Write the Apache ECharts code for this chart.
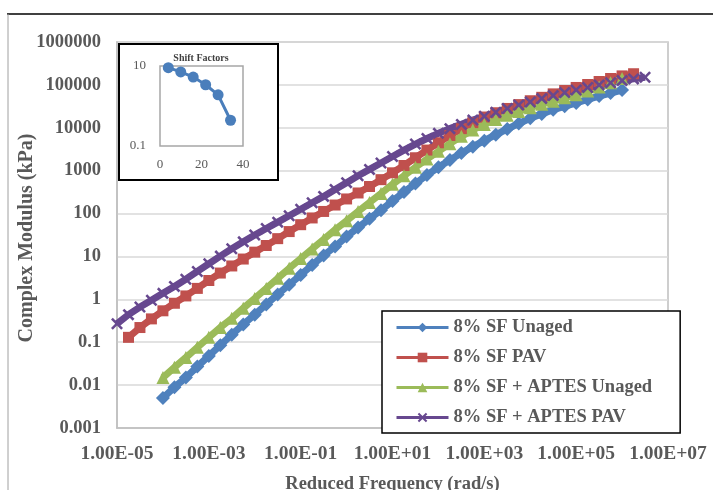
<!DOCTYPE html>
<html><head><meta charset="utf-8">
<script src="https://cdn.jsdelivr.net/npm/echarts@6/dist/echarts.min.js"></script>
<style>html,body{margin:0;padding:0;background:#fff}#c{width:713px;height:490px}</style>
</head><body><div id="c"></div><script>
// Reduced frequency grid (rad/s), quarter-decade readings
const freq = [1e-5,1.78e-5,3.16e-5,5.62e-5, 1e-4,1.78e-4,3.16e-4,5.62e-4, 1e-3,1.78e-3,3.16e-3,5.62e-3,
  0.01,0.0178,0.0316,0.0562, 0.1,0.178,0.316,0.562, 1,1.78,3.16,5.62, 10,17.8,31.6,56.2,
  100,178,316,562, 1000,1780,3160,5620, 1e4,1.78e4,3.16e4,5.62e4, 1e5,1.78e5,3.16e5,5.62e5,
  1e6,1.78e6,3.16e6];
const seriesNames = ['8% SF Unaged','8% SF PAV','8% SF + APTES Unaged','8% SF + APTES PAV'];
// Complex modulus (kPa)
const sfUnaged = [null,null,null,null,
  0.005,0.0089,0.015,0.027,0.048,0.085,0.15,0.26,0.44,0.76,1.3,2.2,3.7,6.3,10.5,17,29,47,76,120,195,316,500,790,
  1200,1780,2570,3630,5010,6920,9330,12600,16600,20900,26300,31600,38000,45700,55000,64600,75900,
  null,null];
const sfPav = [null,
  0.13,0.22,0.35,0.54,0.81,1.2,1.8,2.75,4.1,6.0,8.7,12.6,18,26,38,55,79,112,158,219,302,427,617,891,
  1320,2000,3020,4470,6610,9550,13200,17800,22400,28200,34700,42700,51300,61700,74100,87100,102000,120000,141000,162000,182000,
  null];
const aptesUnaged = [null,null,null,null,
  0.015,0.026,0.044,0.076,0.13,0.22,0.36,0.62,1.05,1.8,3.1,5.3,8.9,15,25,42,68,112,182,295,480,760,
  1200,1860,2820,4270,6310,8910,12000,15500,19500,24000,29500,35500,41700,50100,58900,72400,89100,112000,141000,
  null,null];
const aptesPav = [0.27,0.44,0.66,0.95,1.38,2.0,2.95,4.47,6.76,10.2,15.1,21.9,31.6,44.7,63.1,89.1,126,178,251,363,525,759,
  1070,1510,2140,3020,4170,5620,7410,9550,12000,15100,18600,22900,28200,33900,39800,47900,56200,66100,75900,87100,
  100000,112000,126000,138000,151000];
// Inset: shift factors
const shiftTemps = [4,10,16,22,28,34];
const shiftFactors = [9.1,7.1,5.3,3.4,1.9,0.44];
// Tick labels and titles
const xTickLabels = {'-5':'1.00E-05','-3':'1.00E-03','-1':'1.00E-01','1':'1.00E+01','3':'1.00E+03','5':'1.00E+05','7':'1.00E+07'};
const yTickLabels = {'-3':'0.001','-2':'0.01','-1':'0.1','0':'1','1':'10','2':'100','3':'1000','4':'10000','5':'100000','6':'1000000'};
const insetYLabels = {'-1':'0.1','1':'10'};
const yTitle = 'Complex Modulus (kPa)';
const xTitle = 'Reduced Frequency (rad/s)';
const insetTitle = 'Shift Factors';

const FONT = '"Liberation Serif","Times New Roman",serif';
const colors = ['#4F81BD','#C0504D','#9BBB59','#67488F'];
const symbols = ['diamond','rect','triangle','path://M0,1.5L1.5,0L5,3.5L8.5,0L10,1.5L6.5,5L10,8.5L8.5,10L5,6.5L1.5,10L0,8.5L3.5,5Z'];
const sizes = [14,11,13,12];
const allVals = [sfUnaged,sfPav,aptesUnaged,aptesPav];
function pairs(vals){const out=[];vals.forEach((v,i)=>{if(v!=null)out.push([freq[i],v]);});return out;}
function ex(v){return String(Math.round(Math.log10(v)));}

const chart = echarts.init(document.getElementById('c'));
const mainSeries = allVals.map((vals,i)=>({
  name: seriesNames[i], type:'line', xAxisIndex:0, yAxisIndex:0,
  data: pairs(vals), symbol: symbols[i], symbolSize: sizes[i],
  itemStyle:{color:colors[i]}, lineStyle:{color:colors[i], width:7}, z:2
}));
chart.setOption({
  animation:false,
  backgroundColor:'#fff',
  graphic:[
    {type:'line', shape:{x1:7,y1:14,x2:713,y2:14}, style:{stroke:'#000',lineWidth:1.5}},
    {type:'line', shape:{x1:8,y1:14,x2:8,y2:490}, style:{stroke:'#a0a0a0',lineWidth:1}},
    {type:'rect', shape:{x:119,y:44,width:159,height:136}, style:{fill:'#fff',stroke:'#000',lineWidth:2}, z:3},
    {type:'text', x:201, y:58, z:7, style:{text:insetTitle, font:'bold 10px '+FONT, fill:'#404040', align:'center', verticalAlign:'middle', textAlign:'center', textVerticalAlign:'middle'}},
    {type:'text', x:27, y:238, rotation:Math.PI/2, z:7, style:{text:yTitle, font:'bold 20px '+FONT, fill:'#595959', align:'center', verticalAlign:'middle', textAlign:'center', textVerticalAlign:'middle'}}
  ],
  legend:{
    data: seriesNames, orient:'vertical', left:382, top:311,
    padding:[7,28,6,13], itemGap:11, itemWidth:52, itemHeight:12,
    lineStyle:{width:3},
    borderColor:'#000', borderWidth:1.5, backgroundColor:'#fff',
    textStyle:{fontFamily:FONT, fontWeight:'bold', fontSize:18.5, color:'#595959', lineHeight:18}
  },
  grid:[
    {left:117, top:42, width:551, height:386, show:true, borderColor:'#bfbfbf', borderWidth:1.5,
     backgroundColor:'transparent', outerBoundsMode:'none', containLabel:false},
    {left:160, top:66, width:83, height:80, show:true, borderColor:'#a6a6a6', borderWidth:1.5, z:4,
     outerBoundsMode:'none', containLabel:false}
  ],
  xAxis:[
    {type:'log', logBase:10, gridIndex:0, min:1e-5, max:1e7, interval:1,
     name:xTitle, nameLocation:'middle', nameGap:47,
     nameTextStyle:{fontFamily:FONT, fontWeight:'bold', fontSize:18.5, color:'#595959'},
     axisLine:{show:true, lineStyle:{color:'#bfbfbf', width:1.5}}, axisTick:{show:false}, splitLine:{show:false},
     axisLabel:{interval:0, margin:16, fontFamily:FONT, fontWeight:'bold', fontSize:19.5, color:'#595959',
       formatter:v=>xTickLabels[ex(v)]||''}},
    {type:'value', gridIndex:1, min:0, max:40, interval:20, z:5,
     axisLine:{show:false}, axisTick:{show:false}, splitLine:{show:false},
     axisLabel:{margin:12, fontFamily:FONT, fontSize:13, color:'#595959'}}
  ],
  yAxis:[
    {type:'log', logBase:10, gridIndex:0, min:0.001, max:1e6, interval:1,
     axisLine:{show:true, lineStyle:{color:'#bfbfbf', width:1.5}}, axisTick:{show:false},
     splitLine:{show:true, lineStyle:{color:'#d9d9d9', width:1.5}},
     axisLabel:{interval:0, margin:16, fontFamily:FONT, fontWeight:'bold', fontSize:18.5, color:'#595959',
       formatter:v=>yTickLabels[ex(v)]||''}},
    {type:'log', logBase:10, gridIndex:1, min:0.1, max:10, interval:1, z:5,
     axisLine:{show:false}, axisTick:{show:false}, splitLine:{show:false},
     axisLabel:{interval:0, margin:14, fontFamily:FONT, fontSize:13, color:'#595959',
       formatter:v=>insetYLabels[ex(v)]||''}}
  ],
  series: mainSeries.concat([{
    name:insetTitle, type:'line', xAxisIndex:1, yAxisIndex:1, z:6,
    data: shiftTemps.map((t,i)=>[t,shiftFactors[i]]),
    symbol:'circle', symbolSize:11, itemStyle:{color:'#4A7EBB'}, lineStyle:{color:'#4A7EBB', width:3}
  }])
});
</script></body></html>
